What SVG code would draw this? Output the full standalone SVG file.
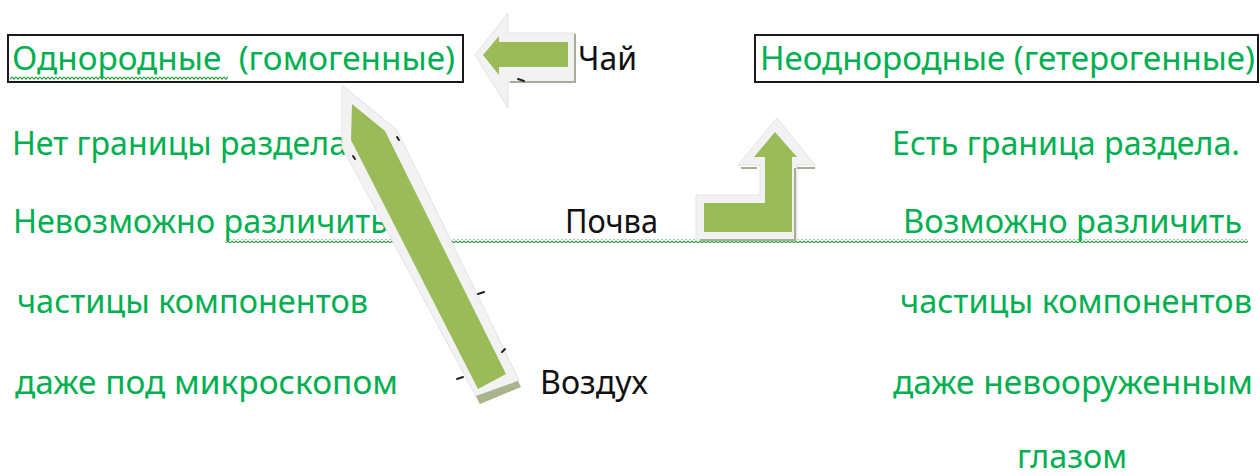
<svg xmlns="http://www.w3.org/2000/svg" width="1260" height="476" viewBox="0 0 1260 476">
<defs>
<style>
.g{font-family:"Noto Sans","Open Sans","DejaVu Sans",sans-serif;font-size:32px;fill:#00b050}
.k{font-family:"Noto Sans","Open Sans","DejaVu Sans",sans-serif;font-size:32px;fill:#111111}
.box{fill:#ffffff;stroke:#1a1a1a;stroke-width:2}
.out{fill:#f2f2f2;stroke:#e2e2e2;stroke-width:1}
.arr{fill:#9bbb59}
.sh{fill:none;stroke:#a9ad98;stroke-width:2}
.tick{stroke:#222;stroke-width:2;stroke-linecap:round}
</style>
<pattern id="wv" width="4" height="4" patternUnits="userSpaceOnUse">
<path d="M0,0.8 L2,3.2 L4,0.8" fill="none" stroke="#2e9e42" stroke-width="1.1"/>
</pattern>
</defs>
<rect width="1260" height="476" fill="#ffffff"/>

<g id="homogeneous">
<rect class="box" x="8" y="35" width="455" height="47"/>
<text class="g" x="12" y="70" textLength="443" lengthAdjust="spacingAndGlyphs" xml:space="preserve">Однородные  (гомогенные)</text>
<rect x="10" y="76" width="218" height="4" fill="url(#wv)"/>
</g>

<g id="heterogeneous">
<rect class="box" x="755" y="35" width="503" height="47"/>
<text class="g" x="760" y="70" textLength="495" lengthAdjust="spacingAndGlyphs">Неоднородные (гетерогенные)</text>
</g>

<g id="tea"><text class="k" x="578" y="70" textLength="59" lengthAdjust="spacingAndGlyphs">Чай</text></g>
<g id="soil"><text class="k" x="565" y="233" textLength="93" lengthAdjust="spacingAndGlyphs">Почва</text></g>
<g id="air"><text class="k" x="540" y="394" textLength="108" lengthAdjust="spacingAndGlyphs">Воздух</text></g>

<g id="homogeneous-props">
<text class="g" x="12" y="155" textLength="335" lengthAdjust="spacingAndGlyphs">Нет границы раздела</text>
<text class="g" x="13" y="233" textLength="375" lengthAdjust="spacingAndGlyphs">Невозможно различить</text>
<text class="g" x="17" y="313" textLength="351" lengthAdjust="spacingAndGlyphs">частицы компонентов</text>
<text class="g" x="15" y="394" textLength="383" lengthAdjust="spacingAndGlyphs">даже под микроскопом</text>
</g>

<g id="heterogeneous-props">
<text class="g" x="892" y="155" textLength="348" lengthAdjust="spacingAndGlyphs">Есть граница раздела.</text>
<text class="g" x="903" y="233" textLength="339" lengthAdjust="spacingAndGlyphs">Возможно различить</text>
<text class="g" x="900" y="313" textLength="352" lengthAdjust="spacingAndGlyphs">частицы компонентов</text>
<text class="g" x="893" y="394" textLength="360" lengthAdjust="spacingAndGlyphs">даже невооруженным</text>
<text class="g" x="1017" y="468" textLength="110" lengthAdjust="spacingAndGlyphs">глазом</text>
</g>

<rect id="wavy-underline" x="226" y="239" width="1022" height="4" fill="url(#wv)"/>

<g id="connectors">
<g id="arrow-tea">
<polygon class="out" points="475,55 508,13 508,33 575,33 575,82 508,82 508,108"/>
<polyline class="sh" points="575,34 575,82 510,82"/>
<line class="tick" x1="518" y1="79" x2="524" y2="81" stroke-width="1.5"/>
<polygon class="arr" points="483,55 499,36 499,42 568,42 568,67 499,67 499,75"/>
</g>
<g id="arrow-air">
<polygon class="out" points="342,85 397,130 519,380 480,404 348,158 342,148"/>
<polygon points="476,396 518,381 521,387 480,404" fill="#a9b48c"/>
<polygon class="arr" points="352,104 385,131 506,374 478,389 351,140"/>
<line class="tick" x1="397" y1="137" x2="399" y2="140" stroke-width="1.2"/>
<line class="tick" x1="353" y1="156" x2="355" y2="159" stroke-width="1.2"/>
<line class="tick" x1="478" y1="294" x2="484" y2="292"/>
<line class="tick" x1="502" y1="352" x2="505" y2="349" stroke-width="1.5"/>
<line class="tick" x1="457" y1="379" x2="463" y2="377"/>
</g>
<g id="arrow-soil">
<polygon class="out" points="696,195 760,195 760,165 738,165 777,118 815,165 797,165 797,240 696,240"/>
<polyline class="sh" points="741,168 757,168"/>
<polyline class="sh" points="797,168 815,168"/>
<polyline class="sh" points="795,168 795,240 700,240"/>
<polygon class="arr" points="704,203 765,203 765,157 754,157 775,132 797,157 792,157 792,232 704,232"/>
</g>
</g>
</svg>
